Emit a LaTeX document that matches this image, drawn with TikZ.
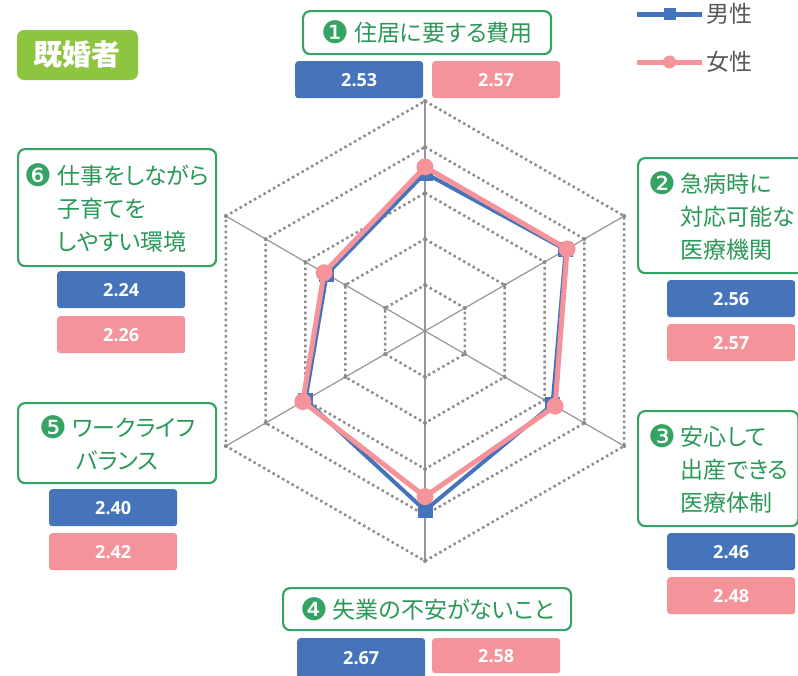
\documentclass[tikz,border=0pt]{standalone}
\usepackage{fontspec}
\usepackage{tikz}
\usepackage{xcolor}
\usetikzlibrary{arrows}
\usetikzlibrary{positioning}
\usetikzlibrary{calc}
\setmainfont{Noto Sans CJK JP}[RawFeature=+palt]
\newfontfamily\numfont{Open Sans}
\newfontfamily\dingfont{DejaVu Sans}
\newcommand{\cnum}[1]{\raisebox{-2.2pt}{\dingfont\fontsize{31}{31}\selectfont\color{LABEL_GREEN}#1}\hspace{5pt}}

\begin{document}
\begin{tikzpicture}[x=1pt, y=1pt,
		labelbox/.style={draw={LABEL_GREEN}, line width={2.2pt}, rounded corners={7pt}, fill={WHITE}, text={TEXT_GREEN}, font={\fontsize{23}{33}\selectfont}, inner xsep={10pt}, inner ysep={0pt}, anchor={north west}},
		valuebox/.style={rounded corners={3pt}, text={WHITE}, font={\numfont\bfseries\fontsize{18}{18}\selectfont}, minimum width={128pt}, minimum height={37pt}, inner sep={0pt}, anchor={north west}},
		gridline/.style={draw={GRID_GRAY}, line width={2.5pt}, dash pattern={on 2.5pt off 3pt}},
		axisline/.style={draw={AXIS_GRAY}, line width={1.2pt}},
		maleline/.style={draw={BLUE}, line width={4pt}, line join={round}},
		femaleline/.style={draw={PINK}, line width={5pt}, line join={round}},
		malemark/.style={rectangle, fill={BLUE}, minimum size={15pt}, inner sep={0pt}},
		femalemark/.style={circle, fill={PINK}, minimum size={17pt}, inner sep={0pt}}]
				\definecolor{WHITE}{RGB}{255, 255, 255}
				\definecolor{BLUE}{RGB}{70, 116, 186}
				\definecolor{PINK}{RGB}{244, 147, 154}
				\definecolor{LABEL_GREEN}{RGB}{52, 163, 100}
				\definecolor{TEXT_GREEN}{RGB}{42, 152, 88}
				\definecolor{TITLE_GREEN}{RGB}{141, 197, 64}
				\definecolor{GRID_GRAY}{RGB}{140, 140, 140}
				\definecolor{AXIS_GRAY}{RGB}{150, 150, 150}
				\definecolor{LEGEND_GRAY}{RGB}{88, 88, 88}
				\useasboundingbox (0, 0) rectangle (798, -675);
				\clip (0, 0) rectangle (798, -675);

				% radar grid
				\begin{scope}[shift={(425, -331)}]
					\foreach \k in {1, ..., 5} {
						\draw[gridline] (90:46*\k) -- (30:46*\k) -- (-30:46*\k) -- (-90:46*\k) 
							-- (-150:46*\k) -- (150:46*\k) -- cycle;
					}
					\foreach \a in {90, 30, -30, -90, -150, 150} {
						\draw[axisline] (0, 0) -- (\a:230);
						\foreach \k in {1, ..., 5} {
							\fill[GRID_GRAY] (\a:46*\k) circle (2);
						}
					}
					
					\foreach \v [count=\i] in {2.53, 2.56, 2.46, 2.67, 2.40, 2.24} {
						\coordinate (m\i) at ({150-60*\i}:{(\v-1.5)*153.33});
					}
					\foreach \v [count=\i] in {2.57, 2.57, 2.48, 2.58, 2.42, 2.26} {
						\coordinate (f\i) at ({150-60*\i}:{(\v-1.5)*153.33});
					}
					\draw[maleline] (m1) -- (m2) -- (m3) -- (m4) -- (m5) -- (m6) -- cycle;
					\foreach \i in {1, ..., 6} {
						\node[malemark] (male\i) at (m\i) {};
					}
					\draw[femaleline] (f1) -- (f2) -- (f3) -- (f4) -- (f5) -- (f6) -- cycle;
					\foreach \i in {1, ..., 6} {
						\node[femalemark] (female\i) at (f\i) {};
					}
				\end{scope}
				
				% title
				\node[fill={TITLE_GREEN}, rounded corners={7pt}, minimum width={121pt}, minimum height={50pt}, 
					text={WHITE}, font={\bfseries\fontsize{29}{29}\selectfont}] (title) at (77.5, -55) {既婚者};
				
				% legend
				\coordinate (maleA) at (637, -14);
				\coordinate (maleB) at (702, -14);
				\coordinate (femaleA) at (637, -62);
				\coordinate (femaleB) at (702, -62);
				\draw[maleline, line width={5pt}] (maleA) -- (maleB);
				\node[malemark, minimum size={12pt}] (malekey) at ($(maleA)!0.5!(maleB)$) {};
				\draw[femaleline] (femaleA) -- (femaleB);
				\node[femalemark, minimum size={13pt}] (femalekey) at ($(femaleA)!0.5!(femaleB)$) {};
				\node[anchor={west}, text={LEGEND_GRAY}, font={\fontsize{23}{23}\selectfont}, inner sep={0pt}] (maletext) 
					at (706, -14) {男性};
				\node[anchor={west}, text={LEGEND_GRAY}, font={\fontsize{23}{23}\selectfont}, inner sep={0pt}] (femaletext) 
					at (706, -62) {女性};
				
				% item labels
				\node[labelbox, minimum width={248pt}, minimum height={43pt}, inner xsep={2pt}] (item1) at (302, -10) 
					{\cnum{❶}住居に要する費用};
				\node[labelbox, minimum height={115pt}, align={left}] (item2) at (637, -157) 
					{\cnum{❷}急病時に\\\hphantom{\cnum{❷}}対応可能な\\\hphantom{\cnum{❷}}医療機関};
				\node[labelbox, minimum height={115pt}, align={left}] (item3) at (637, -410) 
					{\cnum{❸}安心して\\\hphantom{\cnum{❸}}出産できる\\\hphantom{\cnum{❸}}医療体制};
				\node[labelbox, minimum width={288pt}, minimum height={42pt}, inner xsep={2pt}] (item4) at (282, -587) 
					{\cnum{❹}失業の不安がないこと};
				\node[labelbox, minimum width={198pt}, minimum height={80pt}, inner xsep={2pt}, align={center}] (item5) at (17, -402) 
					{\cnum{❺}ワークライフ\\バランス};
				\node[labelbox, minimum width={198pt}, minimum height={117pt}, inner xsep={2pt}, align={left}] (item6) at (17, -148) 
					{\cnum{❻}仕事をしながら\\\hphantom{\cnum{❻}}子育てを\\\hphantom{\cnum{❻}}しやすい環境};
				
				% values
				\node[valuebox, fill={BLUE}] (maleval1) at (295, -61) {2.53};
				\node[valuebox, fill={PINK}] (femaleval1) at (432, -61) {2.57};
				\node[valuebox, fill={BLUE}] (maleval2) at (667, -280) {2.56};
				\node[valuebox, fill={PINK}] (femaleval2) at (667, -324) {2.57};
				\node[valuebox, fill={BLUE}] (maleval3) at (667, -533) {2.46};
				\node[valuebox, fill={PINK}] (femaleval3) at (667, -577) {2.48};
				\node[valuebox, fill={BLUE}, minimum height={40pt}] (maleval4) at (297, -638) {2.67};
				\node[valuebox, fill={PINK}, minimum height={35pt}] (femaleval4) at (432, -638) {2.58};
				\node[valuebox, fill={BLUE}] (maleval5) at (49, -489) {2.40};
				\node[valuebox, fill={PINK}] (femaleval5) at (49, -533) {2.42};
				\node[valuebox, fill={BLUE}] (maleval6) at (57, -271) {2.24};
				\node[valuebox, fill={PINK}] (femaleval6) at (57, -316) {2.26};
			\end{tikzpicture}
\end{document}
